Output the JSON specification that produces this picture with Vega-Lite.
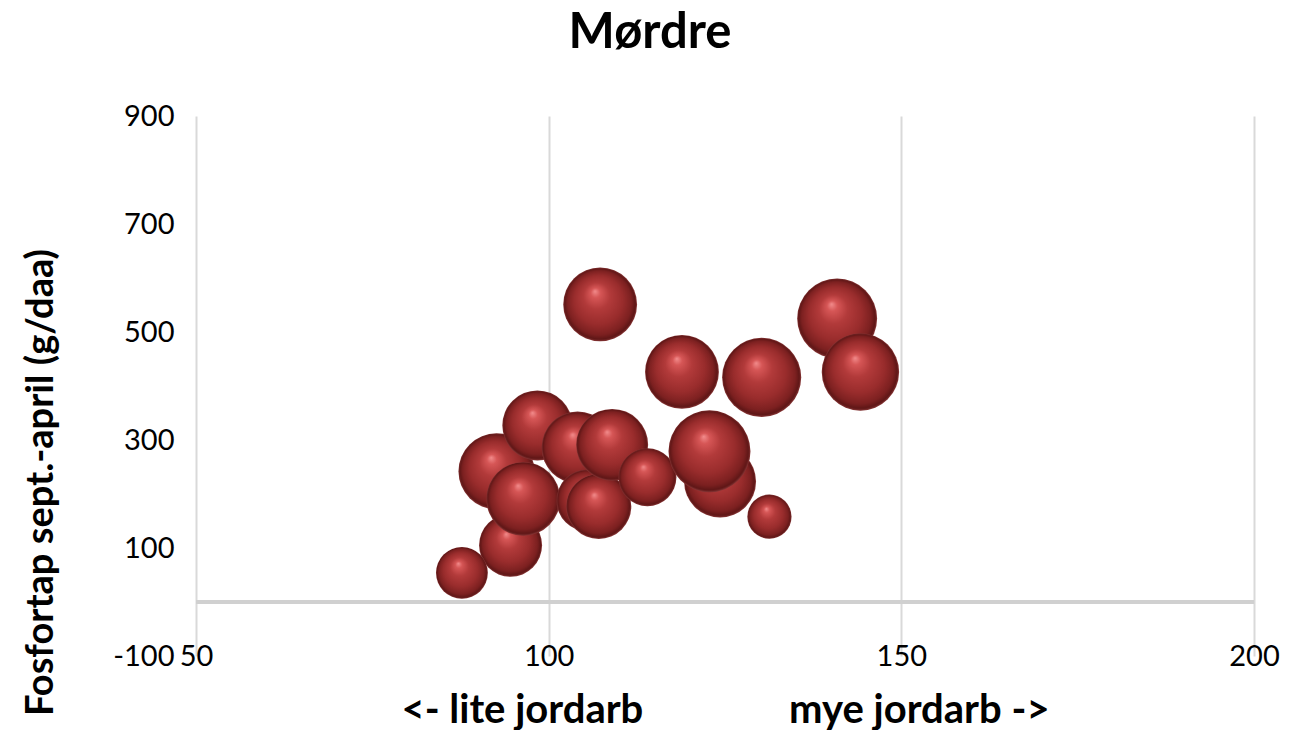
{
  "$schema": "https://vega.github.io/schema/vega-lite/v6.json",
  "autosize": "none",
  "width": 1058,
  "height": 540,
  "padding": {"left": 196, "top": 116, "right": 39, "bottom": 74},
  "background": "white",
  "title": {
    "text": "Mørdre",
    "font": "Lato",
    "fontWeight": "bold",
    "fontSize": 49,
    "color": "#000000",
    "anchor": "middle",
    "frame": "group",
    "baseline": "alphabetic",
    "offset": 5,
    "dx": -75
  },
  "config": {
    "view": {"stroke": null},
    "axis": {
      "labelFont": "Lato",
      "labelFontSize": 29,
      "labelColor": "#000000",
      "titleFont": "Lato",
      "titleFontWeight": "bold",
      "titleColor": "#000000",
      "gridColor": "#d9d9d9",
      "gridWidth": 2,
      "domain": false,
      "ticks": false,
      "tickSize": 0
    }
  },
  "data": {
    "values": [
      {"jordarbeiding": 92.6, "fosfortap": 242, "storrelse": 86},
      {"jordarbeiding": 94.6, "fosfortap": 105, "storrelse": 59},
      {"jordarbeiding": 98.4, "fosfortap": 327, "storrelse": 73},
      {"jordarbeiding": 96.4, "fosfortap": 191, "storrelse": 81},
      {"jordarbeiding": 104.1, "fosfortap": 286, "storrelse": 77},
      {"jordarbeiding": 105.5, "fosfortap": 188, "storrelse": 57},
      {"jordarbeiding": 107.1, "fosfortap": 177, "storrelse": 63},
      {"jordarbeiding": 109.0, "fosfortap": 291, "storrelse": 77},
      {"jordarbeiding": 114.0, "fosfortap": 231, "storrelse": 50},
      {"jordarbeiding": 124.3, "fosfortap": 223, "storrelse": 77},
      {"jordarbeiding": 122.8, "fosfortap": 279, "storrelse": 100},
      {"jordarbeiding": 131.3, "fosfortap": 158, "storrelse": 29},
      {"jordarbeiding": 87.7, "fosfortap": 54, "storrelse": 40},
      {"jordarbeiding": 107.3, "fosfortap": 551, "storrelse": 81},
      {"jordarbeiding": 118.9, "fosfortap": 426, "storrelse": 81},
      {"jordarbeiding": 130.2, "fosfortap": 416, "storrelse": 93},
      {"jordarbeiding": 140.9, "fosfortap": 525, "storrelse": 95},
      {"jordarbeiding": 144.2, "fosfortap": 426, "storrelse": 89}
    ]
  },
  "layer": [
    {
      "mark": {"type": "rule", "color": "#d0d0d0", "strokeWidth": 3},
      "encoding": {
        "y": {"datum": 0, "type": "quantitative", "scale": {"domain": [-100, 900]}}
      }
    },
    {
      "mark": {
        "type": "point",
        "shape": "circle",
        "filled": true,
        "opacity": 1,
        "strokeWidth": 0,
        "fill": {
          "gradient": "radial",
          "x1": 0.43, "y1": 0.32, "r1": 0,
          "x2": 0.5, "y2": 0.5, "r2": 0.5,
          "stops": [
            {"offset": 0, "color": "#f28c8c"},
            {"offset": 0.13, "color": "#d65656"},
            {"offset": 0.36, "color": "#b23a3a"},
            {"offset": 0.66, "color": "#992c2c"},
            {"offset": 0.87, "color": "#7c2020"},
            {"offset": 0.96, "color": "#5e1616"},
            {"offset": 1, "color": "#8a3838"}
          ]
        }
      },
      "encoding": {
        "x": {
          "field": "jordarbeiding",
          "type": "quantitative",
          "scale": {"domain": [50, 200], "nice": false, "zero": false},
          "axis": {
            "values": [50, 100, 150, 200],
            "labelFlush": false,
            "labelBaseline": "middle",
            "labelPadding": 0,
            "title": "<- lite jordarb\u00a0\u00a0\u00a0\u00a0\u00a0\u00a0\u00a0\u00a0\u00a0\u00a0\u00a0\u00a0\u00a0\u00a0 mye jordarb ->",
            "titleFontSize": 40,
            "titleBaseline": "middle",
            "titleY": 54,
            "titlePadding": 0
          }
        },
        "y": {
          "field": "fosfortap",
          "type": "quantitative",
          "scale": {"domain": [-100, 900], "nice": false, "zero": false},
          "axis": {
            "values": [-100, 100, 300, 500, 700, 900],
            "labelExpr": "datum.value + ''",
            "labelPadding": 22,
            "labelFlush": false,
            "title": "Fosfortap sept.-april (g/daa)",
            "titleFontSize": 38,
            "titleAngle": -90,
            "titleBaseline": "middle",
            "titleAlign": "center",
            "titleX": -155,
            "titleY": 366
          }
        },
        "size": {
          "field": "storrelse",
          "type": "quantitative",
          "scale": {"type": "linear", "domain": [0, 100], "range": [0, 6724]},
          "legend": null
        }
      }
    }
  ]
}
